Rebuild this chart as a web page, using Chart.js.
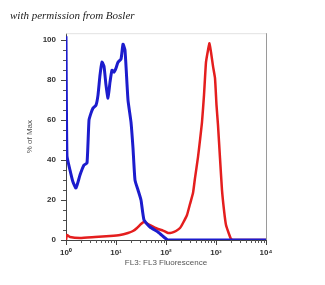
<!DOCTYPE html>
<html><head><meta charset="utf-8">
<script src="https://cdn.jsdelivr.net/npm/chart.js@4.4.0/dist/chart.umd.min.js"></script>
<style>html,body{margin:0;padding:0;background:#fff}#c{display:block}</style>
</head><body><canvas id="c" width="325" height="285"></canvas>
<script>
// x values are in decades (log10 of fluorescence), y in % of Max
const xTickLabels = ['10⁰','10¹','10²','10³','10⁴'];
const blueX = [0,0.02,0.08,0.14,0.2,0.28,0.36,0.42,0.46,0.5,0.54,0.6,0.64,0.68,0.72,0.76,0.8,0.84,0.88,0.92,0.96,1.0,1.04,1.1,1.14,1.18,1.24,1.3,1.34,1.38,1.44,1.5,1.56,1.68,1.84,1.98,2.04,4];
const blueY = [102,42,35,29,26,32.5,37.5,38.5,60,63.5,66,67.5,72.5,82.5,89,87,77.5,71,79,85,84,86,89,90.5,98,95,70,59,46,30,25,20,10,6.5,4,1,0,0];
const redX = [0,0.02,0.08,0.28,0.58,0.88,1.08,1.24,1.34,1.42,1.5,1.56,1.64,1.74,1.84,1.94,2.04,2.12,2.2,2.28,2.34,2.42,2.48,2.54,2.58,2.64,2.68,2.72,2.76,2.8,2.84,2.87,2.9,2.94,2.98,3.01,3.04,3.08,3.12,3.16,3.2,3.26,3.3,3.34,4];
const redY = [0,2.5,1.5,1,1.5,2,2.5,3.5,4.5,6,8,9,8,6.7,5.5,4.7,3.5,3.7,4.5,6,8.5,12.5,18,23.5,31,41.5,50,59,72.5,89,95,98.5,94,87,81,67.5,57.5,41,25,15,7.5,3,0.5,0,0];

const toPts = (xs, ys) => xs.map((x, i) => ({x, y: ys[i]}));

const decor = {
  id: 'decor',
  afterDraw(chart) {
    const {ctx, chartArea: a, scales: {x, y}} = chart;
    ctx.save();
    ctx.lineWidth = 1;
    ctx.strokeStyle = '#e2e2e2';
    ctx.beginPath(); ctx.moveTo(a.left, a.top + 0.5); ctx.lineTo(a.right, a.top + 0.5); ctx.stroke();
    ctx.strokeStyle = '#9a9a9a';
    ctx.beginPath(); ctx.moveTo(Math.round(a.right) + 0.5, a.top); ctx.lineTo(Math.round(a.right) + 0.5, a.bottom); ctx.stroke();
    ctx.strokeStyle = '#555';
    ctx.beginPath();
    for (let d = 0; d < 4; d++) {
      for (let k = 2; k <= 9; k++) {
        const px = Math.round(x.getPixelForValue(d + Math.log10(k))) + 0.5;
        ctx.moveTo(px, a.bottom); ctx.lineTo(px, a.bottom + 3);
      }
    }
    for (let v = 5; v < 100; v += 5) {
      if (v % 20 === 0) continue;
      const py = Math.round(y.getPixelForValue(v)) + 0.5;
      ctx.moveTo(a.left - 3, py); ctx.lineTo(a.left, py);
    }
    ctx.stroke();
    ctx.restore();
  }
};

new Chart(document.getElementById('c'), {
  type: 'line',
  data: {
    datasets: [
      {data: toPts(blueX, blueY), borderColor: 'rgb(28,28,205)', borderWidth: 3, pointRadius: 0, tension: 0.15, fill: false},
      {data: toPts(redX, redY), borderColor: 'rgb(228,30,30)', borderWidth: 2.5, pointRadius: 0, tension: 0.15, fill: false}
    ]
  },
  options: {
    responsive: false,
    devicePixelRatio: 1,
    animation: false,
    layout: {padding: {left: 10, right: 59, top: 0, bottom: 0}},
    plugins: {
      legend: {display: false},
      tooltip: {enabled: false},
      title: {
        display: true, text: 'with permission from Bosler', align: 'start',
        color: '#222', font: {family: 'Liberation Serif', style: 'italic', size: 11, weight: 'normal'},
        padding: {top: 10, bottom: 10}
      }
    },
    scales: {
      x: {
        type: 'linear', min: 0, max: 4,
        afterFit(s) { s.height = 45; },
        ticks: {
          stepSize: 1, color: '#333', padding: 3,
          font: {family: 'Liberation Sans', size: 8, weight: 'bold'},
          maxRotation: 0,
          callback: (v) => Number.isInteger(v) ? xTickLabels[v] : ''
        },
        grid: {drawOnChartArea: false, tickLength: 5, color: '#444'},
        border: {color: '#444', width: 1},
        title: {display: true, text: 'FL3: FL3 Fluorescence', color: '#555', font: {family: 'Liberation Sans', size: 8}, padding: {bottom: 17}}
      },
      y: {
        min: 0, max: 103.5,
        afterFit(s) { s.width = 56; },
        ticks: {
          stepSize: 20, includeBounds: false, color: '#333', padding: 5,
          font: {family: 'Liberation Sans', size: 8, weight: 'bold'}
        },
        grid: {drawOnChartArea: false, tickLength: 5, color: '#444'},
        border: {color: '#444', width: 1},
        title: {display: true, text: '% of Max', color: '#555', font: {family: 'Liberation Sans', size: 8}, padding: {top: 15}}
      }
    }
  },
  plugins: [decor]
});
</script>
</body></html>
